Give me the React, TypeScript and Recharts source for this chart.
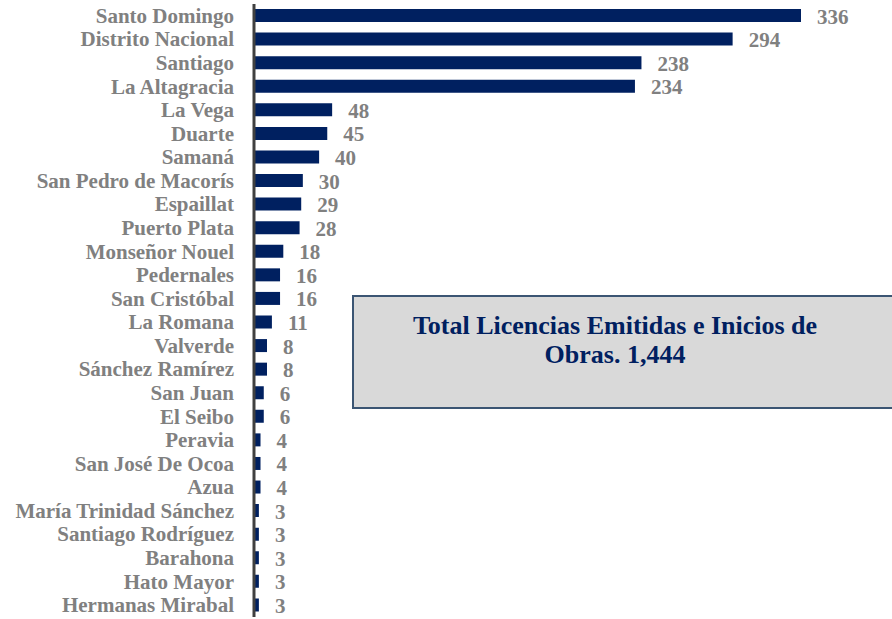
import { BarChart, Bar, XAxis, YAxis, LabelList } from 'recharts';

const PROVINCIAS = [
  'Santo Domingo', 'Distrito Nacional', 'Santiago', 'La Altagracia', 'La Vega',
  'Duarte', 'Samaná', 'San Pedro de Macorís', 'Espaillat', 'Puerto Plata',
  'Monseñor Nouel', 'Pedernales', 'San Cristóbal', 'La Romana', 'Valverde',
  'Sánchez Ramírez', 'San Juan', 'El Seibo', 'Peravia', 'San José De Ocoa',
  'Azua', 'María Trinidad Sánchez', 'Santiago Rodríguez', 'Barahona', 'Hato Mayor',
  'Hermanas Mirabal',
];

const LICENCIAS = [
  336, 294, 238, 234, 48, 45, 40, 30, 29, 28, 18, 16, 16, 11, 8, 8, 6, 6, 4, 4, 4, 3, 3, 3, 3, 3,
];

const TITULO = ['Total Licencias Emitidas e Inicios de', 'Obras. 1,444'];

const NAVY = '#002060';
const GRIS = '#808080';
const FONT = '"Liberation Serif", "Times New Roman", serif';

const data = PROVINCIAS.map((name, i) => ({ name, value: LICENCIAS[i] }));

// etiqueta de categoría, alineada a la derecha
const CatTick = (props: any) => {
  const { x, y, payload } = props;
  return (
    <text
      x={x - 18}
      y={y}
      dy={7}
      textAnchor="end"
      fill={GRIS}
      fontFamily={FONT}
      fontWeight="bold"
      fontSize={21}
    >
      {payload.value}
    </text>
  );
};

// valor a la derecha de cada barra
const ValueLabel = (props: any) => {
  const { x, y, width, height, value } = props;
  return (
    <text
      x={x + width + 16}
      y={y + height / 2}
      dy={8}
      textAnchor="start"
      fill={GRIS}
      fontFamily={FONT}
      fontWeight="bold"
      fontSize={21}
    >
      {value}
    </text>
  );
};

export default function App() {
  return (
    <div style={{ position: 'absolute', left: 0, top: 0, width: 892, height: 619, background: '#fff' }}>
      <BarChart
        width={892}
        height={619}
        data={data}
        layout="vertical"
        margin={{ top: 4, right: 91, left: 0, bottom: 2 }}
        barSize={13}
      >
        <XAxis type="number" hide domain={[0, 336]} />
        <YAxis
          type="category"
          dataKey="name"
          width={254}
          tick={<CatTick />}
          tickLine={false}
          tickSize={0}
          axisLine={{ stroke: '#404040', strokeWidth: 3 }}
          interval={0}
        />
        <Bar dataKey="value" fill={NAVY} isAnimationActive={false}>
          <LabelList dataKey="value" content={<ValueLabel />} />
        </Bar>
      </BarChart>

      <div
        style={{
          position: 'absolute',
          left: 352,
          top: 295,
          width: 560,
          height: 114,
          background: '#d9d9d9',
          border: '2px solid #3b5573',
          boxSizing: 'border-box',
        }}
      >
        <div
          style={{
            width: 522,
            paddingTop: 14,
            textAlign: 'center',
            color: NAVY,
            fontFamily: FONT,
            fontWeight: 'bold',
            fontSize: 26,
            lineHeight: '29px',
          }}
        >
          {TITULO[0]}
          <br />
          {TITULO[1]}
        </div>
      </div>
    </div>
  );
}
